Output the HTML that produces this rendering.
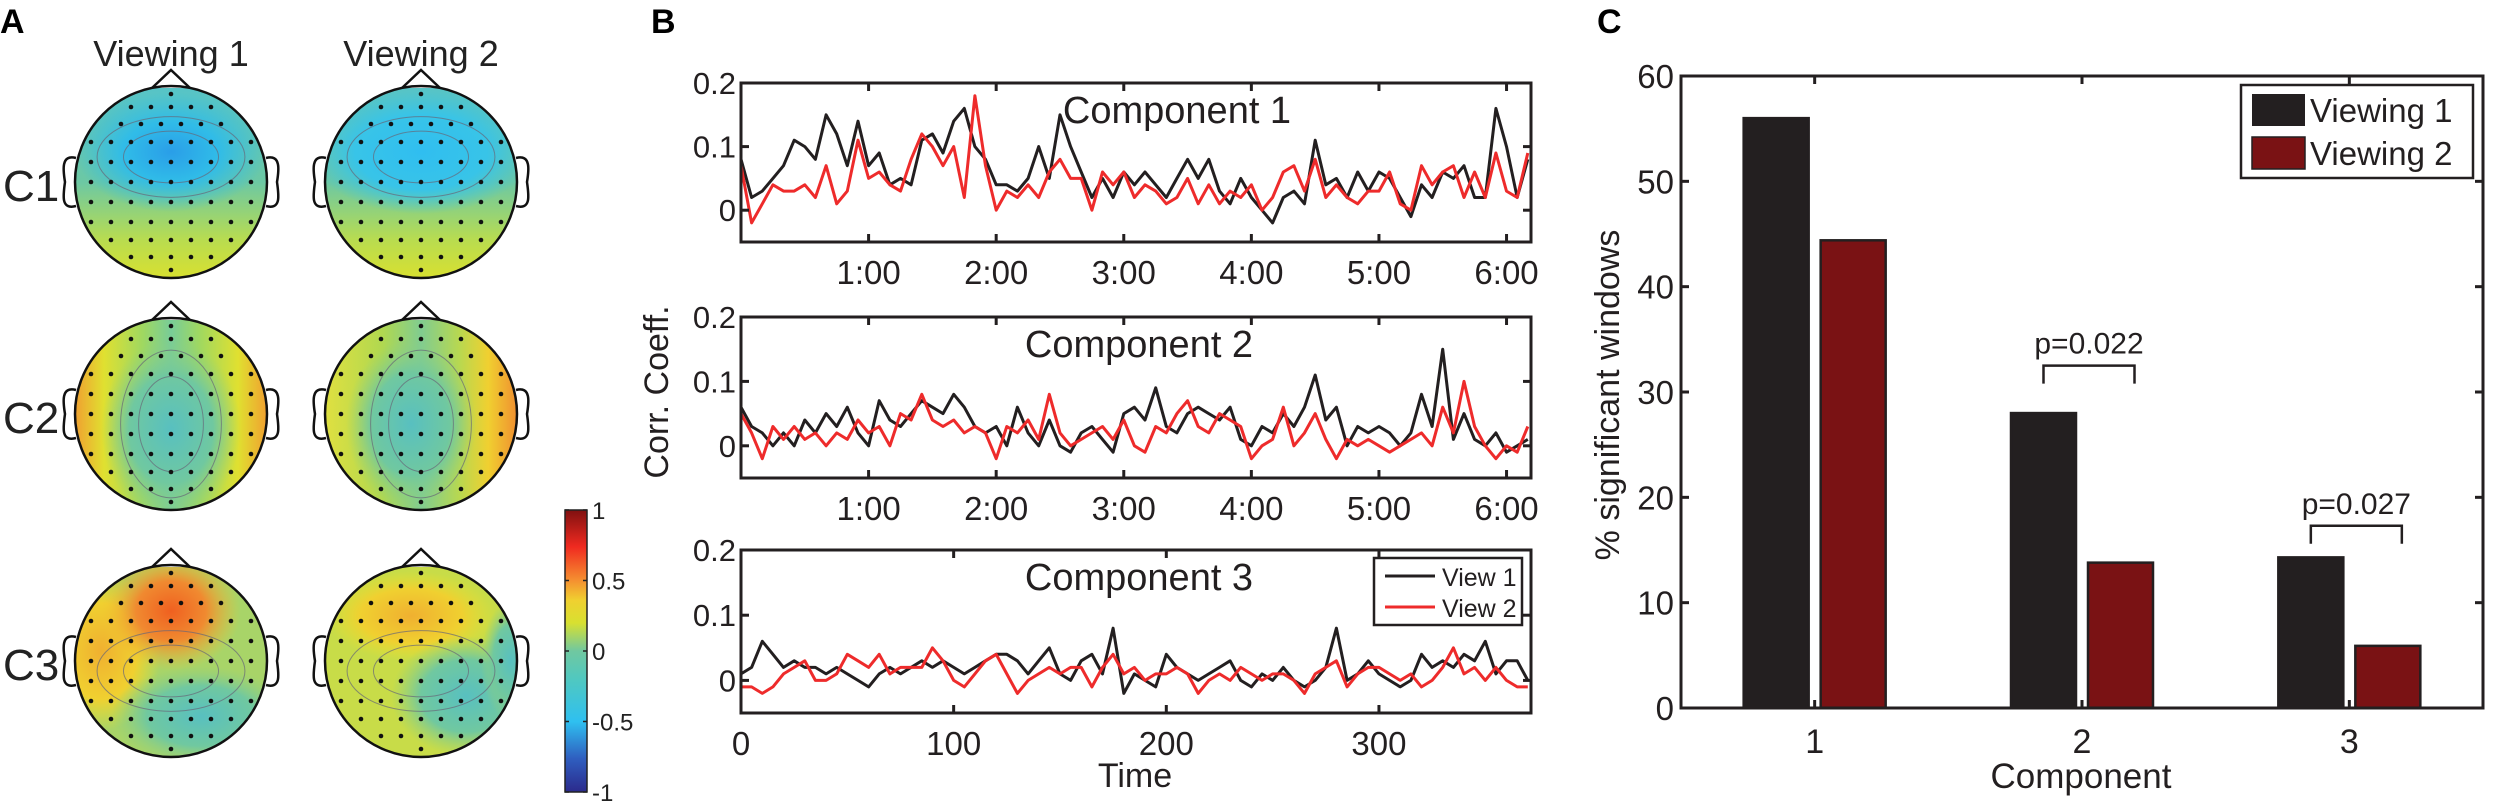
<!DOCTYPE html>
<html><head><meta charset="utf-8"><style>
body{margin:0;background:#fff}
svg{display:block;font-family:"Liberation Sans",Arial,sans-serif}
</style></head><body>
<svg id="fig" xmlns="http://www.w3.org/2000/svg" width="2500" height="812" viewBox="0 0 2500 812">
<defs>
<linearGradient id="cbar" x1="0" y1="1" x2="0" y2="0">
<stop offset="0" stop-color="#2b2a8c"/><stop offset="0.12" stop-color="#2f5fc0"/><stop offset="0.25" stop-color="#2fc0f0"/><stop offset="0.4" stop-color="#50c8c0"/><stop offset="0.5" stop-color="#70c8a0"/><stop offset="0.6" stop-color="#d8e030"/><stop offset="0.68" stop-color="#f0d030"/><stop offset="0.75" stop-color="#f59030"/><stop offset="0.87" stop-color="#f02a20"/><stop offset="1" stop-color="#801010"/>
</linearGradient>
<linearGradient id="g1" x1="0" y1="0" x2="0" y2="1"><stop offset="0" stop-color="#56c4c8"/><stop offset="0.5" stop-color="#6cc8a4"/><stop offset="0.8" stop-color="#b8dc50"/><stop offset="1" stop-color="#d8e030"/></linearGradient>
<radialGradient id="blue"><stop offset="0" stop-color="#2a9ee8"/><stop offset="0.5" stop-color="#30bce8"/><stop offset="1" stop-color="#30bce8" stop-opacity="0"/></radialGradient>
<radialGradient id="blue2"><stop offset="0" stop-color="#30bef0"/><stop offset="0.6" stop-color="#38c4e8"/><stop offset="1" stop-color="#38c4e8" stop-opacity="0"/></radialGradient>
<linearGradient id="g2" x1="0" y1="0" x2="1" y2="0"><stop offset="0" stop-color="#f0a030"/><stop offset="0.15" stop-color="#e0e030"/><stop offset="0.35" stop-color="#a0d860"/><stop offset="0.5" stop-color="#78cc98"/><stop offset="0.65" stop-color="#a0d860"/><stop offset="0.85" stop-color="#e0e030"/><stop offset="1" stop-color="#f0a030"/></linearGradient>
<linearGradient id="g2b" x1="0" y1="0" x2="1" y2="0"><stop offset="0" stop-color="#e0e040"/><stop offset="0.3" stop-color="#b0d850"/><stop offset="0.5" stop-color="#80cc90"/><stop offset="0.7" stop-color="#b8d850"/><stop offset="0.85" stop-color="#f0d030"/><stop offset="1" stop-color="#f09030"/></linearGradient>
<radialGradient id="orange"><stop offset="0" stop-color="#f06020"/><stop offset="0.5" stop-color="#f08a30"/><stop offset="1" stop-color="#f0c030" stop-opacity="0"/></radialGradient>
<radialGradient id="yell"><stop offset="0" stop-color="#f0b030"/><stop offset="0.6" stop-color="#f0d030"/><stop offset="1" stop-color="#e8e030" stop-opacity="0"/></radialGradient>
<radialGradient id="teal"><stop offset="0" stop-color="#58c0c0"/><stop offset="0.6" stop-color="#70c8a0"/><stop offset="1" stop-color="#90d080" stop-opacity="0"/></radialGradient>
</defs>
<g id="panelA"></g>
<g id="panelB"></g>
<g id="panelC"></g>
</svg>
<script>
// ---------- Panel B data (sampled every 5 s) ----------
const bTimes = [];
for (let i = 0; i < 75; i++) bTimes.push(i * 5);
const comp1View1 = [0.08,0.02,0.03,0.05,0.07,0.11,0.1,0.08,0.15,0.12,0.07,0.14,0.07,0.09,0.04,0.05,0.04,0.11,0.12,0.09,0.14,0.16,0.1,0.08,0.04,0.04,0.03,0.05,0.1,0.05,0.15,0.1,0.06,0.02,0.05,0.02,0.06,0.04,0.06,0.04,0.02,0.05,0.08,0.05,0.08,0.03,0.01,0.05,0.02,0.0,-0.02,0.02,0.03,0.01,0.11,0.04,0.05,0.02,0.06,0.03,0.06,0.05,0.02,-0.01,0.04,0.02,0.06,0.05,0.07,0.02,0.02,0.16,0.1,0.02,0.08];
const comp1View2 = [0.07,-0.02,0.01,0.04,0.03,0.03,0.04,0.02,0.07,0.01,0.03,0.11,0.05,0.06,0.04,0.03,0.08,0.12,0.1,0.07,0.1,0.02,0.18,0.07,0.0,0.03,0.02,0.04,0.02,0.06,0.08,0.05,0.05,0.0,0.06,0.04,0.06,0.02,0.04,0.03,0.01,0.02,0.05,0.01,0.04,0.01,0.03,0.02,0.04,0.0,0.02,0.06,0.07,0.03,0.08,0.02,0.04,0.02,0.01,0.03,0.03,0.06,0.01,0.0,0.07,0.04,0.06,0.07,0.02,0.06,0.02,0.09,0.03,0.02,0.09];
const comp2View1 = [0.06,0.03,0.02,0.0,0.02,0.0,0.04,0.02,0.05,0.03,0.06,0.02,0.0,0.07,0.04,0.03,0.05,0.07,0.06,0.05,0.08,0.06,0.03,0.02,0.03,0.0,0.06,0.02,0.0,0.04,0.0,-0.01,0.02,0.03,0.01,-0.01,0.05,0.06,0.04,0.09,0.03,0.02,0.05,0.06,0.05,0.04,0.06,0.01,0.0,0.03,0.02,0.05,0.03,0.06,0.11,0.04,0.06,0.0,0.03,0.02,0.03,0.02,0.0,0.02,0.08,0.03,0.15,0.01,0.05,0.01,0.0,0.02,-0.01,0.0,0.01];
const comp2View2 = [0.05,0.02,-0.02,0.03,0.01,0.03,0.01,0.02,0.0,0.02,0.01,0.04,0.02,0.03,0.0,0.05,0.04,0.08,0.04,0.03,0.04,0.02,0.03,0.02,-0.02,0.03,0.02,0.04,0.01,0.08,0.02,0.0,0.01,0.02,0.03,0.01,0.04,0.0,-0.01,0.03,0.02,0.05,0.07,0.03,0.02,0.05,0.04,0.03,-0.02,0.0,0.01,0.06,0.0,0.02,0.05,0.01,-0.02,0.01,0.0,0.01,0.0,-0.01,0.0,0.01,0.02,0.0,0.06,0.02,0.1,0.03,0.0,-0.02,0.0,-0.01,0.03];
const comp3View1 = [0.01,0.02,0.06,0.04,0.02,0.03,0.02,0.02,0.01,0.02,0.01,0.0,-0.01,0.01,0.02,0.01,0.02,0.03,0.02,0.03,0.02,0.01,0.02,0.03,0.04,0.04,0.03,0.01,0.03,0.05,0.01,0.0,0.03,0.04,0.01,0.08,-0.02,0.01,0.0,-0.01,0.04,0.02,0.01,0.0,0.01,0.02,0.03,0.0,-0.01,0.01,0.0,0.02,0.0,-0.01,0.0,0.02,0.08,0.0,0.01,0.03,0.01,0.0,-0.01,0.0,0.04,0.02,0.03,0.02,0.04,0.03,0.06,0.01,0.03,0.03,0.0];
const comp3View2 = [-0.01,-0.01,-0.02,-0.01,0.01,0.02,0.03,0.0,0.0,0.01,0.04,0.03,0.02,0.04,0.01,0.02,0.02,0.02,0.05,0.03,0.0,-0.01,0.01,0.03,0.04,0.01,-0.02,0.0,0.01,0.02,0.01,0.02,0.02,-0.01,0.02,0.04,0.01,0.02,0.0,0.01,0.01,0.02,0.01,-0.02,0.0,0.01,0.0,0.02,0.01,0.0,0.01,0.01,0.0,-0.02,0.01,0.02,0.03,-0.01,0.01,0.02,0.02,0.01,0.0,0.01,-0.01,0.0,0.02,0.05,0.01,0.02,0.0,0.02,0.0,-0.01,-0.01];
const bYTicks = [0, 0.1, 0.2];
const bYTickLabels = ["0", "0.1", "0.2"];
const bTimeTicks = [60, 120, 180, 240, 300, 360];
const bTimeTickLabels = ["1:00", "2:00", "3:00", "4:00", "5:00", "6:00"];
const bSecTicks = [0, 100, 200, 300];
const bSecTickLabels = ["0", "100", "200", "300"];
const bComponentTitles = ["Component 1", "Component 2", "Component 3"];

// ---------- Panel C data ----------
const cCategories = ["1", "2", "3"];
const cViewing1 = [56, 28, 14.3];
const cViewing2 = [44.4, 13.8, 5.9];
const cYTicks = [0, 10, 20, 30, 40, 50, 60];
const cPValues = [null, "p=0.022", "p=0.027"];
const cBracketLevels = [null, 32.5, 17.3];

// ---------- Panel A data ----------
const colorbarTicks = [1, 0.5, 0, -0.5, -1];
const colorbarTickLabels = ["1", "0.5", "0", "-0.5", "-1"];

const NS = "http://www.w3.org/2000/svg";
function mk(tag, attrs, parent, text) {
  const e = document.createElementNS(NS, tag);
  for (const k in attrs) e.setAttribute(k, attrs[k]);
  if (text !== undefined) e.textContent = text;
  parent.appendChild(e);
  return e;
}
const A = document.getElementById('panelA');
const B = document.getElementById('panelB');
const C = document.getElementById('panelC');

// ================= Panel A =================
let t = mk('text', {x: 0, y: 33, 'font-size': 34, 'font-weight': 'bold'}, A, 'A');


const colX = [171, 421], rowY = [182, 414, 661];
["Viewing 1", "Viewing 2"].forEach((s, i) => {
  const e = mk('text', {x: colX[i], y: 66, 'font-size': 36, 'text-anchor': 'middle', fill: '#222'}, A, s);
  
  
});
["C1", "C2", "C3"].forEach((s, i) => {
  const e = mk('text', {x: 3, y: rowY[i] + 19, 'font-size': 44, fill: '#222'}, A, s);
  
  
});
const heads = [
  [{base: 'url(#g1)', blobs: [['url(#blue)', 0, -30, 95, 60]]}, {base: 'url(#g1)', blobs: [['url(#blue2)', 0, -30, 110, 62]]}],
  [{base: 'url(#g2)', blobs: [['url(#teal)', 0, 15, 70, 90]]}, {base: 'url(#g2b)', blobs: [['url(#teal)', -10, 10, 65, 85]]}],
  [{base: '#a8d468', blobs: [['url(#yell)', -70, -10, 60, 80], ['url(#orange)', 0, -50, 70, 60], ['url(#teal)', 30, 55, 90, 50]]},
   {base: '#c8dc48', blobs: [['url(#yell)', -10, -45, 85, 45], ['url(#teal)', 45, 35, 75, 60], ['url(#teal)', 90, 0, 30, 60]]}]
];
const elecRows = [[-88, 1], [-75, 5], [-58, 6], [-40, 9], [-20, 9], [0, 11], [20, 9], [40, 9], [58, 7], [75, 5], [88, 1]];
let hid = 0;
for (let r = 0; r < 3; r++) for (let c = 0; c < 2; c++) {
  const cx = colX[c], cy = rowY[r], R = 96;
  const g = mk('g', {}, A);
  
  
  const cp = mk('clipPath', {id: 'hc' + hid}, g);
  mk('ellipse', {cx: cx, cy: cy, rx: R, ry: R}, cp);
  const inner = mk('g', {'clip-path': 'url(#hc' + hid + ')'}, g);
  mk('rect', {x: cx - R, y: cy - R, width: 2 * R, height: 2 * R, fill: heads[r][c].base}, inner);
  heads[r][c].blobs.forEach(b => mk('ellipse', {cx: cx + b[1], cy: cy + b[2], rx: b[3], ry: b[4], fill: b[0]}, inner));
  [0.45, 0.7].forEach(k => mk('ellipse', {cx: cx, cy: cy + (r === 0 ? -25 : 10), rx: R * k * (r === 1 ? 0.75 : 1.1), ry: R * k * (r === 1 ? 1.1 : 0.6), fill: 'none', stroke: '#667', 'stroke-width': 1, opacity: 0.7}, inner));
  elecRows.forEach(row => {
    const n = row[1], sp = 20;
    for (let i = 0; i < n; i++) {
      const ex = cx + (i - (n - 1) / 2) * sp;
      const d = mk('circle', {cx: ex, cy: cy + row[0], r: 2.3, fill: '#111'}, inner);
    }
  });
  // nose & ears
  mk('path', {d: `M${cx - 19} ${cy - R + 2} L${cx} ${cy - R - 16} L${cx + 19} ${cy - R + 2}`, fill: '#fff', stroke: '#111', 'stroke-width': 2.5}, g);
  mk('path', {d: `M${cx - R + 1} ${cy - 24} C${cx - R - 14} ${cy - 28} ${cx - R - 12} ${cy - 12} ${cx - R - 10} ${cy} C${cx - R - 12} ${cy + 14} ${cx - R - 14} ${cy + 28} ${cx - R + 1} ${cy + 24}`, fill: 'none', stroke: '#111', 'stroke-width': 2.5}, g);
  mk('path', {d: `M${cx + R - 1} ${cy - 24} C${cx + R + 14} ${cy - 28} ${cx + R + 12} ${cy - 12} ${cx + R + 10} ${cy} C${cx + R + 12} ${cy + 14} ${cx + R + 14} ${cy + 28} ${cx + R - 1} ${cy + 24}`, fill: 'none', stroke: '#111', 'stroke-width': 2.5}, g);
  mk('ellipse', {cx: cx, cy: cy, rx: R, ry: R, fill: 'none', stroke: '#111', 'stroke-width': 2.5}, g);
  hid++;
}
// colorbar
const cbTop = 510, cbBot = 792;
const cbY = v => cbBot - (v + 1) / 2 * (cbBot - cbTop);
let cb = mk('rect', {x: 565, y: cbTop, width: 22, height: cbBot - cbTop, fill: 'url(#cbar)', stroke: '#222', 'stroke-width': 1.5}, A);


colorbarTicks.forEach((v, i) => {
  mk('line', {x1: 565, x2: 569, y1: cbY(v), y2: cbY(v), stroke: '#222', 'stroke-width': 1.5}, A);
  mk('line', {x1: 583, x2: 587, y1: cbY(v), y2: cbY(v), stroke: '#222', 'stroke-width': 1.5}, A);
  const e = mk('text', {x: 592, y: cbY(v) + 9, 'font-size': 24, fill: '#222'}, A, colorbarTickLabels[i]);
  
  
});

// ================= Panel B =================
t = mk('text', {x: 651, y: 33, 'font-size': 34, 'font-weight': 'bold'}, B, 'B');


const bL = 741, bR = 1531, tMax = 371.5;
const bX = s => bL + s / tMax * (bR - bL);
const axesB = [{top: 83, bot: 242}, {top: 317, bot: 478}, {top: 550, bot: 713}];
const seriesB = [[comp1View1, comp1View2], [comp2View1, comp2View2], [comp3View1, comp3View2]];
axesB.forEach((ax, k) => {
  const yS = v => ax.bot - (v + 0.05) / 0.25 * (ax.bot - ax.top);
  const g = mk('g', {}, B);
  
  
  const cp = mk('clipPath', {id: 'bc' + k}, g);
  mk('rect', {x: bL, y: ax.top, width: bR - bL, height: ax.bot - ax.top}, cp);
  const cols = ['#231f20', '#ee2b2b'];
  seriesB[k].forEach((arr, j) => {
    const d = arr.map((v, i) => (i ? 'L' : 'M') + bX(bTimes[i]).toFixed(1) + ' ' + yS(v).toFixed(1)).join(' ');
    const p = mk('path', {d: d, fill: 'none', stroke: cols[j], 'stroke-width': 3, 'stroke-linejoin': 'round', 'clip-path': 'url(#bc' + k + ')'}, g);
    
    
  });
  mk('rect', {x: bL, y: ax.top, width: bR - bL, height: ax.bot - ax.top, fill: 'none', stroke: '#231f20', 'stroke-width': 3}, g);
  bYTicks.forEach((v, i) => {
    mk('line', {x1: bL, x2: bL + 8, y1: yS(v), y2: yS(v), stroke: '#231f20', 'stroke-width': 3}, g);
    mk('line', {x1: bR - 8, x2: bR, y1: yS(v), y2: yS(v), stroke: '#231f20', 'stroke-width': 3}, g);
    const e = mk('text', {x: bL - 5, y: yS(v) + 11, 'font-size': 31, 'text-anchor': 'end', fill: '#231f20'}, g, bYTickLabels[i]);
    
    
  });
  const xt = k < 2 ? bTimeTicks : bSecTicks, xl = k < 2 ? bTimeTickLabels : bSecTickLabels;
  xt.forEach((s, i) => {
    mk('line', {x1: bX(s), x2: bX(s), y1: ax.top, y2: ax.top + 8, stroke: '#231f20', 'stroke-width': 3}, g);
    mk('line', {x1: bX(s), x2: bX(s), y1: ax.bot - 8, y2: ax.bot, stroke: '#231f20', 'stroke-width': 3}, g);
    const e = mk('text', {x: bX(s), y: ax.bot + 42, 'font-size': 33, 'text-anchor': 'middle', fill: '#231f20'}, g, xl[i]);
    
    
  });
  const tx = k === 0 ? 1177 : 1139;
  const e = mk('text', {x: tx, y: ax.top + 40, 'font-size': 38, 'text-anchor': 'middle', fill: '#231f20'}, g, bComponentTitles[k]);
  
  
});
t = mk('text', {x: 0, y: 0, 'font-size': 34, 'text-anchor': 'middle', fill: '#231f20', transform: 'translate(668,392) rotate(-90)'}, B, 'Corr. Coeff.');


t = mk('text', {x: 1135, y: 787, 'font-size': 34, 'text-anchor': 'middle', fill: '#231f20'}, B, 'Time');


const lg = mk('g', {}, B);


mk('rect', {x: 1374, y: 558, width: 148, height: 67, fill: '#fff', stroke: '#231f20', 'stroke-width': 2.5}, lg);
mk('line', {x1: 1385, x2: 1435, y1: 576, y2: 576, stroke: '#231f20', 'stroke-width': 3}, lg);
mk('line', {x1: 1385, x2: 1435, y1: 607, y2: 607, stroke: '#ee2b2b', 'stroke-width': 3}, lg);
t = mk('text', {x: 1442, y: 586, 'font-size': 25, fill: '#231f20'}, lg, 'View 1');


t = mk('text', {x: 1442, y: 617, 'font-size': 25, fill: '#231f20'}, lg, 'View 2');



// ================= Panel C =================
t = mk('text', {x: 1597, y: 33, 'font-size': 34, 'font-weight': 'bold'}, C, 'C');


const cL = 1681, cR = 2483, cTop = 76, cBot = 708;
const cX = i => cL + (i + 0.5) / cCategories.length * (cR - cL);
const cY = v => cBot - v / 60 * (cBot - cTop);
const barW = 65, off = 38.5;
cCategories.forEach((cat, i) => {
  [[cViewing1, '#231f20', -off, 1], [cViewing2, '#7a1214', off, 2]].forEach(s => {
    const v = s[0][i];
    const r = mk('rect', {x: cX(i) + s[2] - barW / 2, y: cY(v), width: barW, height: cBot - cY(v), fill: s[1], stroke: '#231f20', 'stroke-width': 2.5}, C);
    
    
  });
  const e = mk('text', {x: cX(i), y: cBot + 45, 'font-size': 34, 'text-anchor': 'middle', fill: '#231f20'}, C, cat);
  
  
  mk('line', {x1: cX(i), x2: cX(i), y1: cTop, y2: cTop + 8, stroke: '#231f20', 'stroke-width': 3}, C);
  mk('line', {x1: cX(i), x2: cX(i), y1: cBot - 8, y2: cBot, stroke: '#231f20', 'stroke-width': 3}, C);
  if (cPValues[i]) {
    const yb = cY(cBracketLevels[i]);
    const x1 = cX(i) - off, x2 = cX(i) + off + 14;
    const br = mk('path', {d: `M${x1} ${yb + 18} L${x1} ${yb} L${x2} ${yb} L${x2} ${yb + 18}`, fill: 'none', stroke: '#231f20', 'stroke-width': 2.5}, C);
    
    
    const pt = mk('text', {x: (x1 + x2) / 2, y: yb - 12, 'font-size': 30, 'text-anchor': 'middle', fill: '#231f20'}, C, cPValues[i]);
    
    
  }
});
mk('rect', {x: cL, y: cTop, width: cR - cL, height: cBot - cTop, fill: 'none', stroke: '#231f20', 'stroke-width': 3}, C);
cYTicks.forEach(v => {
  mk('line', {x1: cL, x2: cL + 8, y1: cY(v), y2: cY(v), stroke: '#231f20', 'stroke-width': 3}, C);
  mk('line', {x1: cR - 8, x2: cR, y1: cY(v), y2: cY(v), stroke: '#231f20', 'stroke-width': 3}, C);
  const e = mk('text', {x: cL - 7, y: cY(v) + 12, 'font-size': 33, 'text-anchor': 'end', fill: '#231f20'}, C, String(v));
  
  
});
t = mk('text', {x: 0, y: 0, 'font-size': 34, 'text-anchor': 'middle', fill: '#231f20', transform: 'translate(1619,395) rotate(-90)'}, C, '% significant windows');


t = mk('text', {x: 2081, y: 788, 'font-size': 35, 'text-anchor': 'middle', fill: '#231f20'}, C, 'Component');


const lc = mk('g', {}, C);


mk('rect', {x: 2241, y: 85, width: 232, height: 93, fill: '#fff', stroke: '#231f20', 'stroke-width': 2.5}, lc);
mk('rect', {x: 2252, y: 94, width: 53, height: 32, fill: '#231f20'}, lc);
mk('rect', {x: 2252, y: 137, width: 53, height: 32, fill: '#7a1214', stroke: '#231f20', 'stroke-width': 1.5}, lc);
t = mk('text', {x: 2310, y: 122, 'font-size': 33, fill: '#231f20'}, lc, 'Viewing 1');


t = mk('text', {x: 2310, y: 165, 'font-size': 33, fill: '#231f20'}, lc, 'Viewing 2');


</script>
</body></html>
